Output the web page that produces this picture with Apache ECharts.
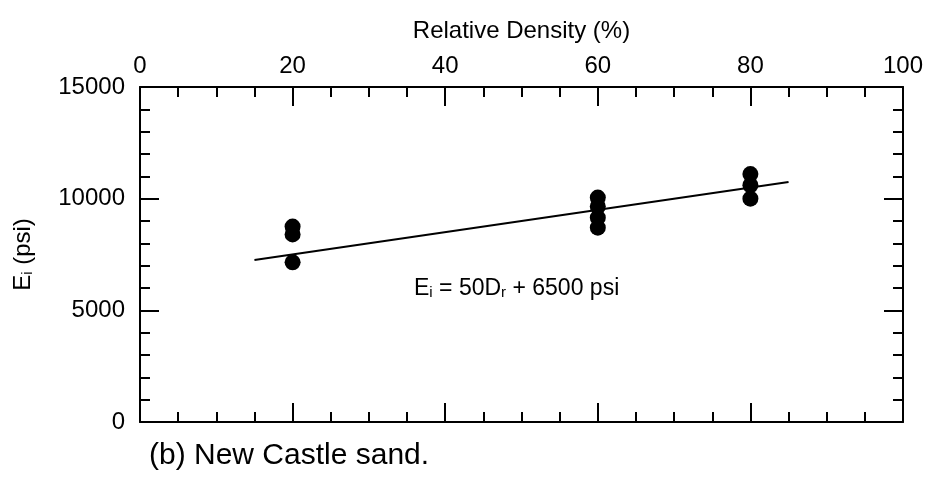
<!DOCTYPE html>
<html><head><meta charset="utf-8">
<script src="https://cdn.jsdelivr.net/npm/echarts@6/dist/echarts.min.js"></script>
<style>html,body{margin:0;padding:0;background:#fff}#c{width:929px;height:481px}</style>
</head><body><div id="c"></div>
<script>
const xTicks = [0, 20, 40, 60, 80, 100];
const yTicks = [0, 5000, 10000, 15000];
const dr20 = [8750, 8400, 7150];
const dr60 = [10050, 9650, 9150, 8700];
const dr80 = [11100, 10600, 10000];
const fitX = [15, 85];
const fitY = [7250, 10750];

const points = [];
dr20.forEach(v => points.push([20, v]));
dr60.forEach(v => points.push([60, v]));
dr80.forEach(v => points.push([80, v]));
const fit = fitX.map((x, i) => [x, fitY[i]]);

const font = 'Liberation Sans, Arial, sans-serif';
const chart = echarts.init(document.getElementById('c'), null, {renderer: 'canvas'});
const axisLine = {show: true, onZero: false, lineStyle: {color: '#000', width: 2}};
const tick = {show: true, inside: true, length: 19, lineStyle: {color: '#000', width: 2}};
chart.setOption({
  animation: false,
  grid: {left: 140, right: 26, top: 87, bottom: 59},
  xAxis: [
    {type: 'value', position: 'top', min: 0, max: 100, interval: 20,
     name: 'Relative Density (%)', nameLocation: 'middle', nameGap: 44,
     nameTextStyle: {fontFamily: font, fontSize: 24, color: '#000'},
     axisLine: axisLine, axisTick: tick,
     minorTick: {show: true, splitNumber: 4, length: 10, lineStyle: {color: '#000', width: 2}},
     axisLabel: {fontFamily: font, fontSize: 24, color: '#000', margin: 9,
       formatter: v => xTicks.includes(v) ? String(v) : ''},
     splitLine: {show: false}},
    {type: 'value', position: 'bottom', min: 0, max: 100, interval: 20,
     axisLine: axisLine, axisTick: tick,
     minorTick: {show: true, splitNumber: 4, length: 10, lineStyle: {color: '#000', width: 2}},
     axisLabel: {show: false}, splitLine: {show: false}}
  ],
  yAxis: [
    {type: 'value', position: 'left', min: 0, max: 15000, interval: 5000,
     name: '{b|E}{s|i}{b| (psi)}', nameLocation: 'middle', nameGap: 105, nameRotate: 90,
     nameTextStyle: {rich: {
       b: {fontFamily: font, fontSize: 24, color: '#000'},
       s: {fontFamily: font, fontSize: 15, color: '#000', verticalAlign: 'bottom', padding: [9, 0, 0, 0]}}},
     axisLine: axisLine, axisTick: tick,
     minorTick: {show: true, splitNumber: 5, length: 10, lineStyle: {color: '#000', width: 2}},
     axisLabel: {fontFamily: font, fontSize: 24, color: '#000', margin: 15,
       formatter: v => yTicks.includes(v) ? String(v) : ''},
     splitLine: {show: false}},
    {type: 'value', position: 'right', min: 0, max: 15000, interval: 5000,
     axisLine: axisLine, axisTick: tick,
     minorTick: {show: true, splitNumber: 5, length: 10, lineStyle: {color: '#000', width: 2}},
     axisLabel: {show: false}, splitLine: {show: false}}
  ],
  series: [
    {type: 'line', data: fit, showSymbol: false, symbol: 'none',
     lineStyle: {color: '#000', width: 2}, xAxisIndex: 0, yAxisIndex: 0},
    {type: 'scatter', data: points, symbol: 'circle', symbolSize: 16,
     itemStyle: {color: '#000', opacity: 1}, xAxisIndex: 0, yAxisIndex: 0}
  ],
  graphic: [
    {type: 'text', left: 414, top: 277, style: {
      text: '{b|E}{s|i}{b| = 50D}{s|r}{b| + 6500 psi}',
      rich: {
        b: {fontFamily: font, fontSize: 23, fill: '#000'},
        s: {fontFamily: font, fontSize: 15, fill: '#000', verticalAlign: 'bottom', padding: [9, 0, 0, 0]}}}},
    {type: 'text', left: 149, top: 441, style: {
      text: '(b) New Castle sand.', fontFamily: font, fontSize: 30, fill: '#000'}}
  ]
});
</script></body></html>
